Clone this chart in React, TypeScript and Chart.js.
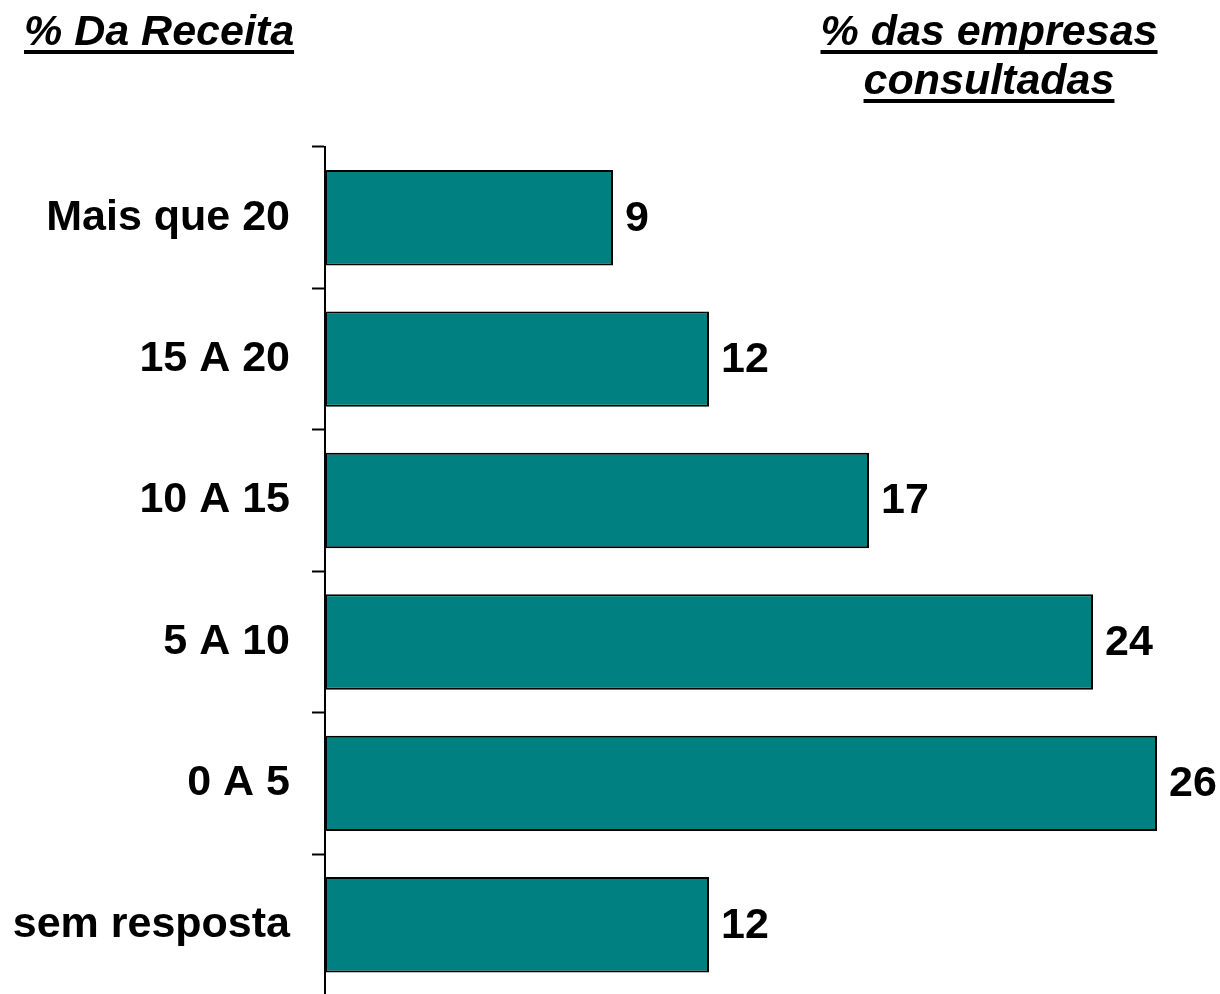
import React, { useEffect, useRef } from "react";
import { Chart, registerables } from "chart.js";

Chart.register(...registerables);

const categories = ["Mais que 20", "15 A 20", "10 A 15", "5 A 10", "0 A 5", "sem resposta"];
const values = [9, 12, 17, 24, 26, 12];
const leftTitle = ["% Da Receita"];
const rightTitle = ["% das empresas", "consultadas"];

const FONT = '"Liberation Sans", Arial, Helvetica, sans-serif';

const decorPlugin = {
  id: "decor",
  afterDraw(chart: any) {
    const ctx = chart.ctx;
    ctx.save();
    // data labels
    const meta = chart.getDatasetMeta(0);
    ctx.font = `bold 43px ${FONT}`;
    ctx.fillStyle = "#000";
    ctx.textAlign = "left";
    ctx.textBaseline = "middle";
    meta.data.forEach((bar: any, i: number) => {
      ctx.fillText(String(values[i]), bar.x + 12, bar.y + 1);
    });
    // titles
    ctx.font = `italic bold 43px ${FONT}`;
    ctx.textBaseline = "alphabetic";
    const drawUnder = (text: string, x: number, y: number, align: "left" | "center") => {
      const w = ctx.measureText(text).width;
      const left = align === "left" ? x : x - w / 2;
      ctx.textAlign = "left";
      ctx.fillText(text, left, y);
      ctx.fillRect(left, y + 5, w, 4);
    };
    leftTitle.forEach((t, i) => drawUnder(t, 24, 45 + i * 49, "left"));
    rightTitle.forEach((t, i) => drawUnder(t, 989, 45 + i * 49, "center"));
    ctx.restore();
  },
};

export default function App() {
  const ref = useRef<HTMLCanvasElement | null>(null);
  useEffect(() => {
    if (!ref.current) return;
    const chart = new Chart(ref.current, {
      type: "bar",
      data: {
        labels: categories,
        datasets: [
          {
            data: values,
            backgroundColor: "#008080",
            borderColor: "#000000",
            borderWidth: 2,
            borderSkipped: false,
            categoryPercentage: 1,
            barPercentage: 0.675,
          },
        ],
      },
      options: {
        indexAxis: "y",
        responsive: false,
        animation: false,
        layout: { padding: { left: 0, top: 147, right: 31, bottom: 4.5 } },
        plugins: { legend: { display: false }, tooltip: { enabled: false } },
        scales: {
          x: { display: false, min: 0, max: 27 },
          y: {
            afterFit: (scale: any) => {
              scale.width = 325;
              scale.paddingTop = 0;
              scale.paddingBottom = 0;
            },
            border: { display: true, color: "#000", width: 2 },
            grid: {
              display: true,
              drawOnChartArea: false,
              drawTicks: true,
              tickLength: 13,
              tickWidth: 2,
              tickColor: "#000",
              offset: true,
            },
            ticks: {
              color: "#000",
              padding: 22,
              font: { family: FONT, size: 43, weight: "bold" },
            },
          },
        },
      },
      plugins: [decorPlugin],
    } as any);
    return () => chart.destroy();
  }, []);
  return (
    <div style={{ position: "absolute", left: 0, top: 0, width: 1220, height: 994, overflow: "hidden", background: "#fff" }}>
      <canvas ref={ref} width={1220} height={1000} style={{ display: "block" }} />
    </div>
  );
}
